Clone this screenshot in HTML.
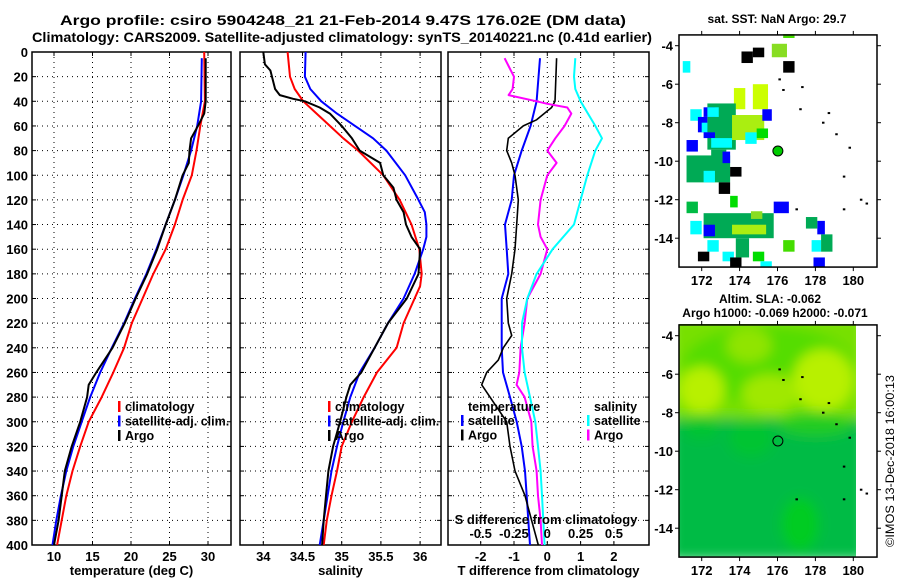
<!DOCTYPE html>
<html><head><meta charset="utf-8"><style>
html,body{margin:0;padding:0;background:#fff;width:900px;height:580px;overflow:hidden}
svg{display:block;font-family:"Liberation Sans",Arial,sans-serif;font-weight:bold}
</style></head><body>
<svg id="fig" width="900" height="580" viewBox="0 0 900 580" xmlns="http://www.w3.org/2000/svg">
<defs>
<filter id="blur" x="-10%" y="-10%" width="120%" height="120%"><feGaussianBlur stdDeviation="6"/></filter>
<clipPath id="slaclip"><rect x="679" y="324" width="177" height="233"/></clipPath>
</defs>
<text x="343" y="25" text-anchor="middle" font-size="14" textLength="566" lengthAdjust="spacingAndGlyphs">Argo profile: csiro 5904248_21 21-Feb-2014 9.47S 176.02E (DM data)</text>
<text x="342" y="42" text-anchor="middle" font-size="14" textLength="620" lengthAdjust="spacingAndGlyphs">Climatology: CARS2009. Satellite-adjusted climatology: synTS_20140221.nc (0.41d earlier)</text>
<text x="777" y="23" text-anchor="middle" font-size="12">sat. SST: NaN Argo: 29.7</text>
<text x="770" y="303" text-anchor="middle" font-size="12">Altim. SLA: -0.062</text>
<text x="775" y="317" text-anchor="middle" font-size="12">Argo h1000: -0.069 h2000: -0.071</text>
<text transform="translate(894,461) rotate(-90)" text-anchor="middle" font-size="12" font-weight="normal" textLength="172" lengthAdjust="spacingAndGlyphs">©IMOS 13-Dec-2018 16:00:13</text>
<g id="plots"></g>
</svg>
<script>
// ---- data ----
const depthTicks = [0,20,40,60,80,100,120,140,160,180,200,220,240,260,280,300,320,340,360,380,400];
const tempTicks = [10,15,20,25,30];
const salTicks = [34,34.5,35,35.5,36];
const salTickLabels = ['34','34.5','35','35.5','36'];
const tdiffTicks = [-2,-1,0,1,2];
const sdiffTicks = [-0.5,-0.25,0,0.25,0.5];
const sdiffTickLabels = ['-0.5','-0.25','0','0.25','0.5'];

const tClimDepth = [0,40,60,80,100,120,140,160,180,200,220,240,260,280,300,320,340,360,380,400];
const tClim = [29.5,29.6,29.0,28.5,27.9,26.7,25.7,24.5,22.9,21.5,20.1,19.1,17.7,16.2,14.5,13.4,12.4,11.6,11.0,10.4];
const tSatDepth = [5,40,60,80,100,120,140,160,180,200,220,240,260,280,300,320,340,360,380,400];
const tSat = [29.2,29.1,28.6,27.8,26.8,25.7,24.5,23.3,22.0,20.5,19.1,17.5,16.0,14.7,13.6,12.5,11.6,10.9,10.3,9.8];
const tArgoDepth = [5,20,40,50,60,70,80,90,100,120,140,160,180,200,220,240,260,270,280,300,320,340,360,380,400];
const tArgo = [29.7,29.7,29.7,29.5,28.7,27.8,27.6,27.5,26.7,25.7,24.5,23.4,22.1,20.6,19.2,17.6,15.5,14.5,14.3,13.4,12.3,11.4,11.0,10.6,10.0];

const sClimDepth = [0,20,30,40,50,60,70,80,100,120,140,160,180,190,200,220,240,260,280,300,320,340,360,380,400];
const sClim = [34.31,34.34,34.40,34.51,34.68,34.85,35.02,35.21,35.53,35.74,35.89,35.99,36.02,36.0,35.93,35.79,35.70,35.45,35.28,35.13,35.0,34.94,34.87,34.81,34.77];
const sSatDepth = [0,20,30,40,50,60,70,80,100,120,130,140,150,160,180,200,220,240,260,280,300,320,340,360,380,400];
const sSat = [34.54,34.53,34.60,34.74,34.94,35.17,35.40,35.57,35.81,35.98,36.06,36.08,36.08,36.04,35.93,35.79,35.59,35.42,35.23,35.11,35.02,34.94,34.87,34.82,34.77,34.72];
const sArgoDepth = [0,10,15,30,35,38,40,45,50,60,70,80,90,100,110,120,130,140,150,160,180,200,220,240,260,270,280,300,320,340,360,380,400];
const sArgo = [34.0,34.02,34.09,34.15,34.21,34.38,34.53,34.72,34.85,35.0,35.13,35.23,35.49,35.53,35.66,35.70,35.79,35.82,35.89,36.0,35.98,35.83,35.59,35.42,35.25,35.11,35.06,34.98,34.89,34.83,34.80,34.77,34.75];

const tdSatDepth = [5,40,60,80,100,120,140,160,180,200,220,240,260,280,300,320,340,360,380,400];
const tdSat = [-0.22,-0.32,-0.50,-0.77,-1.0,-1.07,-1.27,-1.22,-1.17,-1.37,-1.37,-1.37,-1.33,-1.12,-0.92,-0.77,-0.67,-0.62,-0.57,-0.52];
const tdArgoDepth = [5,40,45,55,60,70,80,90,100,120,140,160,180,200,220,230,240,250,260,270,280,300,320,340,360,380,400];
const tdArgo = [0.28,0.23,0.13,-0.32,-0.72,-1.17,-1.22,-1.07,-0.97,-0.87,-0.92,-0.97,-1.07,-1.22,-1.17,-1.07,-1.32,-1.47,-1.82,-1.97,-1.72,-1.22,-1.12,-0.97,-0.67,-0.47,-0.27];
const sdArgoDepth = [5,20,30,35,40,42,45,50,60,70,80,90,100,120,140,150,160,180,200,220,240,260,270,280,300,320,340,360,380,400];
const sdArgo = [-0.32,-0.25,-0.26,-0.29,-0.08,0.0,0.15,0.18,0.13,0.06,0.0,0.07,0.0,-0.05,-0.07,-0.05,0.0,-0.05,-0.15,-0.17,-0.20,-0.21,-0.23,-0.17,-0.12,-0.11,-0.08,-0.07,-0.05,-0.04];
const sdSatDepth = [5,20,30,40,60,70,80,100,120,140,160,180,200,220,240,260,280,300,320,340,360,380,400];
const sdSat = [0.21,0.20,0.21,0.25,0.36,0.41,0.36,0.30,0.25,0.20,0.04,-0.08,-0.15,-0.19,-0.19,-0.17,-0.13,-0.09,-0.07,-0.05,-0.04,-0.03,-0.02];

const mapLatTicks = [-4,-6,-8,-10,-12,-14];
const mapLatLabels = ['-4','-6','-8','-10','-12','-14'];
const mapLonTicks = [172,174,176,178,180];
// SST cells: [lonW, lonE, latN, latS, colour]
const sstCells = [
[176.3,176.9,-3.4,-3.6,'#44dd00'],[175.7,176.5,-3.9,-4.6,'#88dd22'],[174.1,174.7,-4.3,-4.9,'#000'],[174.7,175.3,-4.1,-4.6,'#000'],
[171,171.4,-4.8,-5.4,'#00ffff'],[176.3,176.9,-4.8,-5.4,'#000'],[173.7,174.3,-6.2,-7.3,'#ccff00'],[174.7,175.5,-6.0,-7.3,'#ccff00'],
[172.3,173.8,-7.0,-9.4,'#00aa55'],[173.6,175.3,-7.6,-8.9,'#aaee11'],[175.2,175.7,-7.3,-7.9,'#0000ff'],[171.4,172.0,-7.3,-7.9,'#00ffff'],
[171.8,172.3,-7.7,-8.5,'#0000ff'],[172.1,172.7,-7.2,-7.7,'#0000ff'],[172.0,172.3,-8.0,-8.5,'#00ffff'],[172.1,172.7,-8.5,-8.8,'#0000ff'],
[172.3,172.9,-7.2,-7.7,'#00ffff'],[174.9,175.5,-8.3,-8.8,'#00dd00'],[174.3,174.9,-8.5,-9.1,'#00ffff'],[171.2,171.8,-8.9,-9.5,'#0000ff'],
[172.5,173.6,-8.8,-9.3,'#00ffff'],[171.2,173.5,-9.7,-11.1,'#00aa55'],[172.5,173.3,-9.4,-9.8,'#00aa55'],[173.1,173.5,-9.5,-10.1,'#0000ff'],[172.1,172.7,-10.5,-11.1,'#00ffff'],
[173.5,174.1,-10.3,-10.8,'#000'],[172.9,173.5,-11.1,-11.7,'#000'],[173.5,173.9,-11.8,-12.4,'#00dd00'],[171.2,171.8,-12.1,-12.7,'#00bb44'],
[175.8,176.6,-12.1,-12.7,'#0000ff'],[172.1,175.8,-12.7,-14.0,'#00aa55'],[173.8,174.5,-14.0,-15.0,'#00aa55'],[173.6,175.4,-13.3,-13.8,'#aaee11'],[174.6,175.2,-12.6,-13.0,'#88dd22'],
[171.4,172.0,-13.1,-13.8,'#00ffff'],[172.1,172.7,-13.3,-13.9,'#0000ff'],[172.3,172.9,-14.1,-14.7,'#00ffff'],[176.3,176.9,-14.1,-14.7,'#44dd00'],
[177.8,178.3,-14.1,-14.7,'#00ffff'],[178.3,178.9,-13.8,-14.7,'#00aa55'],[178.1,178.5,-13.1,-13.8,'#0000ff'],[177.5,178.1,-12.9,-13.5,'#00aa55'],
[171.8,172.4,-14.7,-15.2,'#000'],[173.1,173.7,-14.7,-15.2,'#00ffff'],[173.5,174.1,-15.0,-15.5,'#000'],[174.7,175.3,-14.7,-15.2,'#00dd00'],
[175.1,175.7,-15.2,-15.5,'#00ffff'],[177.9,178.5,-15.0,-15.5,'#0000ff']
];
const coastLon = [176.1,176.3,177.3,177.2,178.7,178.4,179.1,179.8,179.5,180.4,180.7,177.0,179.5];
const coastLat = [-5.75,-6.3,-6.15,-7.3,-7.5,-8.0,-8.6,-9.3,-10.8,-12.0,-12.2,-12.5,-12.5];
const argoLon = 176.02, argoLat = -9.47;
// SLA field blobs: [lon, lat, rLon, rLat, colour]
const slaBlobs = [
[175.5,-5.5,4.5,2.0,'#55dd00'],[172.0,-6.8,1.2,1.2,'#b8f000'],[178.4,-6.3,1.6,1.6,'#b8f000'],[175.6,-7.0,1.5,1.0,'#a0e800'],
[174.5,-4.5,1.2,0.9,'#90e400'],[178.0,-8.6,2,0.6,'#22cc22'],[177.2,-13.8,1.0,1.4,'#00cc22'],[174.6,-9.3,1.2,1.0,'#00c433'],[172.0,-8.8,1.0,0.6,'#00c433']
];

// ---- scales ----
const yD = d => 52 + d*1.2325;
const xT = t => 54 + (t-10)*7.7;
const xS = s => 263.3 + (s-34)*78.4;
const xTD = v => 547.3 + v*33.3;
const xSD = v => 547.3 + v*133.3;
const mX = lon => 701.7 + (lon-172)*18.95;
const mY = (lat,off) => off + 45.7 + (-4-lat)*19.25;

const NS='http://www.w3.org/2000/svg';
const root=document.getElementById('plots');
function mk(tag,attrs,parent){const e=document.createElementNS(NS,tag);for(const k in attrs)e.setAttribute(k,attrs[k]);(parent||root).appendChild(e);return e;}
function txt(x,y,s,anchor,size,parent){const e=mk('text',{x:x,y:y,'text-anchor':anchor,'font-size':size},parent);e.textContent=s;return e;}

function panel(name,x0,x1,xs,xt,xlabels,xtitle,ylabels){
  const g=mk('g',{});
  
  
  const w=x1-x0;
  depthTicks.forEach((d,i)=>{
    const y=yD(d);
    if(i>0&&i<depthTicks.length-1){const l=mk('line',{x1:x0,x2:x1,y1:y,y2:y,stroke:'#000','stroke-width':1,'stroke-dasharray':'1,4'},g);
    
    }
    mk('line',{x1:x0,x2:x0+4,y1:y,y2:y,stroke:'#000'},g);
    mk('line',{x1:x1-4,x2:x1,y1:y,y2:y,stroke:'#000'},g);
    if(ylabels){const t=txt(28,y+5,String(d),'end',13,g);
    
    }
  });
  xt.forEach((v,i)=>{
    const x=xs(v);
    const l=mk('line',{x1:x,x2:x,y1:52,y2:545,stroke:'#000','stroke-width':1,'stroke-dasharray':'1,4'},g);
    
    
    mk('line',{x1:x,x2:x,y1:545,y2:541,stroke:'#000'},g);
    mk('line',{x1:x,x2:x,y1:52,y2:56,stroke:'#000'},g);
    const t=txt(x,561,xlabels[i],'middle',13,g);
    
    
  });
  const r=mk('rect',{x:x0,y:52,width:w,height:493,fill:'none',stroke:'#000','stroke-width':1.5},g);
  
  
  const t=txt((x0+x1)/2,575,xtitle,'middle',13,g);
  
  
  return g;
}
function line(g,name,xs,depths,vals,color,w){
  const d=vals.map((v,i)=>(i?'L':'M')+xs(v).toFixed(1)+','+yD(depths[i]).toFixed(1)).join('');
  const p=mk('path',{d:d,fill:'none',stroke:color,'stroke-width':w,'stroke-linejoin':'round'},g);
  
  
}
function legend(g,x,y,items){
  items.forEach((it,i)=>{
    const yy=y+i*14.5;
    const m=mk('rect',{x:x,y:yy-10,width:2.5,height:11,fill:it[1]},g);
    
    
    const t=txt(x+7,yy,it[0],'start',12.5,g);
    
    
  });
}

const g1=panel('temperature-panel',32,231,xT,tempTicks,tempTicks.map(String),'temperature (deg C)',true);
line(g1,'temp-climatology-line',xT,tClimDepth,tClim,'#ff0000',2);
line(g1,'temp-satellite-line',xT,tSatDepth,tSat,'#0000ff',2);
line(g1,'temp-argo-line',xT,tArgoDepth,tArgo,'#000000',2);
legend(g1,118,411,[['climatology','#ff0000'],['satellite-adj. clim.','#0000ff'],['Argo','#000']]);

const g2=panel('salinity-panel',240,441,xS,salTicks,salTickLabels,'salinity',false);
line(g2,'sal-climatology-line',xS,sClimDepth,sClim,'#ff0000',2);
line(g2,'sal-satellite-line',xS,sSatDepth,sSat,'#0000ff',2);
line(g2,'sal-argo-line',xS,sArgoDepth,sArgo,'#000000',2);
legend(g2,328,411,[['climatology','#ff0000'],['satellite-adj. clim.','#0000ff'],['Argo','#000']]);

const g3=panel('difference-panel',448,649,xTD,tdiffTicks,tdiffTicks.map(String),'T difference from climatology',false);
line(g3,'tdiff-satellite-line',xTD,tdSatDepth,tdSat,'#0000ff',2);
line(g3,'tdiff-argo-line',xTD,tdArgoDepth,tdArgo,'#000000',1.6);
line(g3,'sdiff-argo-line',xSD,sdArgoDepth,sdArgo,'#ff00ff',2);
line(g3,'sdiff-satellite-line',xSD,sdSatDepth,sdSat,'#00ffff',2);
{const t=txt(468,411,'temperature','start',12.5,g3);}
{const t=txt(594,411,'salinity','start',12.5,g3);}
legend(g3,461,425,[['satellite','#0000ff'],['Argo','#000']]);
legend(g3,587,425,[['satellite','#00ffff'],['Argo','#ff00ff']]);
{const t=txt(546,524,'S difference from climatology','middle',13,g3);}
sdiffTicks.forEach((v,i)=>{
  const t=txt(xSD(v),538,sdiffTickLabels[i],'middle',13,g3);
  
  
});

function mapAxes(g,off){
  const top=mY(-3.44,off), bot=mY(-15.5,off);
  mapLatTicks.forEach((lat,i)=>{
    const y=mY(lat,off);
    mk('line',{x1:675,x2:679,y1:y,y2:y,stroke:'#000'},g);
    mk('line',{x1:877,x2:881,y1:y,y2:y,stroke:'#000'},g);
    const t=txt(673,y+5,mapLatLabels[i],'end',13,g);
    
    
  });
  mapLonTicks.forEach(lon=>{
    const x=mX(lon);
    mk('line',{x1:x,x2:x,y1:top-4,y2:top,stroke:'#000'},g);
    mk('line',{x1:x,x2:x,y1:bot,y2:bot+4,stroke:'#000'},g);
    const t=txt(x,bot+18,String(lon),'middle',13,g);
    
    
  });
  const r=mk('rect',{x:679,y:top,width:198,height:bot-top,fill:'none',stroke:'#000','stroke-width':1.5},g);
  
  
  coastLon.forEach((lon,i)=>{
    const c=mk('rect',{x:mX(lon)-1,y:mY(coastLat[i],off)-1,width:2.5,height:2,fill:'#000'},g);
    
    
  });
}

const m1=mk('g',{});


sstCells.forEach(c=>{
  const r=mk('rect',{x:mX(c[0]),y:mY(c[2],0),width:mX(c[1])-mX(c[0]),height:mY(c[3],0)-mY(c[2],0),fill:c[4]},m1);
  
  
});
mapAxes(m1,0);
{const c=mk('circle',{cx:mX(argoLon),cy:mY(argoLat,0),r:5,fill:'#00cc00',stroke:'#000','stroke-width':1},m1);

}

const m2=mk('g',{});


const field=mk('g',{'clip-path':'url(#slaclip)'},m2);
const fg=mk('g',{filter:'url(#blur)'},field);
const splitY=mY(-8.3,290);
mk('rect',{x:670,y:splitY,width:195,height:560-splitY,fill:'#00bb44'},fg);
mk('rect',{x:670,y:316,width:195,height:splitY-316,fill:'#77e000'},fg);
slaBlobs.forEach(b=>{
  const e=mk('ellipse',{cx:mX(b[0]),cy:mY(b[1],290),rx:b[2]*18.95,ry:b[3]*19.25,fill:b[4]},fg);
  
  
});
mapAxes(m2,290);
{const c=mk('circle',{cx:mX(argoLon),cy:mY(argoLat,290),r:5,fill:'none',stroke:'#000','stroke-width':1},m2);

}
</script>
</body></html>
